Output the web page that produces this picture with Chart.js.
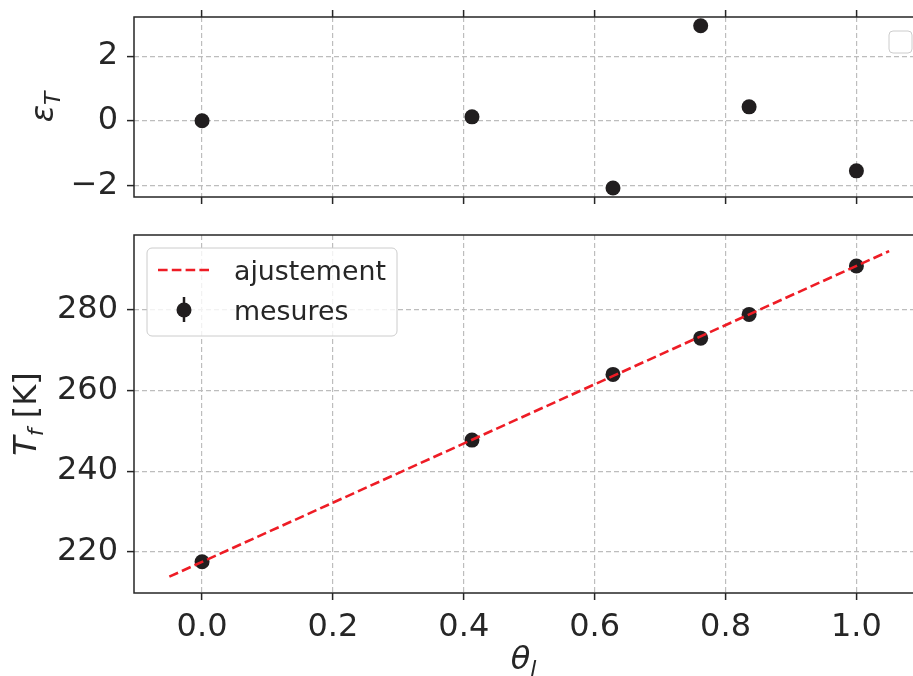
<!DOCTYPE html>
<html>
<head>
<meta charset="utf-8">
<script src="https://cdn.jsdelivr.net/npm/chart.js@4.4.1/dist/chart.umd.min.js"></script>
<style>
  html, body { margin: 0; padding: 0; background: #fff; overflow: hidden; }
  #wrap { position: relative; width: 913px; height: 676px; overflow: hidden; }
  .box { position: absolute; left: 0; width: 915px; }
</style>
</head>
<body>
<div id="wrap">
  <div class="box" style="top:0;height:215px"><canvas id="resid-chart"></canvas></div>
  <div class="box" style="top:215px;height:461px"><canvas id="fit-chart"></canvas></div>
</div>
<script>
// mesures
const thetaValues = [0.0, 0.4125, 0.628, 0.762, 0.836, 1.0];
const tfValues = [217.5, 247.7, 264.0, 273.0, 278.9, 290.9];
const residValues = [0.0, 0.12, -2.08, 2.94, 0.43, -1.55];

// droite d'ajustement (extremites)
const fitTheta = [-0.05, 1.05];
const fitTf = [213.8, 294.6];

// graduations
const xTickValues = [0.0, 0.2, 0.4, 0.6, 0.8, 1.0];
const residTickValues = [-2, 0, 2];
const tfTickValues = [220, 240, 260, 280];

// limites des axes
const xLimits = [-0.104, 1.088];
const residLimits = [-2.36, 3.21];
const tfLimits = [209.75, 298.6];

const INK = '#262626';
const DOT = '#211e1f';
const RED = '#ee1c25';
const GRID = '#bdbdbd';

Chart.defaults.font.family = "'DejaVu Sans'";
Chart.defaults.color = INK;

const setTicks = arr => scale => { scale.ticks = arr.map(v => ({ value: v })); };
const fmtY = v => (v < 0 ? '\u2212' + Math.abs(v) : String(v));

// taille fixe de l'axe, sans marge auto pour les etiquettes
const fixSize = (key, val) => s => {
    s[key] = val;
    s.paddingTop = 0; s.paddingBottom = 0;
    s.paddingLeft = 0; s.paddingRight = 0;
};

function gridOpts(onArea) {
    return {
        color: GRID, lineWidth: 1.2, drawOnChartArea: onArea,
        drawTicks: true, tickLength: 7, tickWidth: 1.5, tickColor: INK,
        tickBorderDash: []
    };
}
const borderOpts = { display: false, dash: [5, 3] };

// titre avec indice (texte italique + indice)
function drawSubLabel(ctx, parts, x, y, rotate) {
    ctx.save();
    ctx.translate(x, y);
    if (rotate) ctx.rotate(-Math.PI / 2);
    let total = 0;
    parts.forEach(p => {
        ctx.font = (p.italic ? 'italic ' : '') + p.size + "px 'DejaVu Sans'";
        p.w = ctx.measureText(p.t).width;
        total += p.w;
    });
    let cx = -total / 2;
    ctx.fillStyle = INK;
    ctx.textBaseline = 'alphabetic';
    ctx.textAlign = 'left';
    parts.forEach(p => {
        ctx.font = (p.italic ? 'italic ' : '') + p.size + "px 'DejaVu Sans'";
        ctx.fillText(p.t, cx, p.dy || 0);
        cx += p.w;
    });
    ctx.restore();
}

function frame(chart) {
    const { ctx, chartArea: a } = chart;
    ctx.save();
    ctx.strokeStyle = INK;
    ctx.lineWidth = 1.5;
    ctx.strokeRect(a.left, a.top, a.right - a.left, a.bottom - a.top);
    ctx.restore();
}

const residDecor = {
    id: 'residDecor',
    afterDraw(chart) {
        const { ctx, chartArea: a } = chart;
        frame(chart);
        // legende vide
        ctx.save();
        ctx.beginPath();
        ctx.roundRect(a.right - 25, a.top + 14, 23, 22, 4);
        ctx.fillStyle = 'rgba(255,255,255,0.8)';
        ctx.fill();
        ctx.strokeStyle = '#cccccc';
        ctx.lineWidth = 1;
        ctx.stroke();
        ctx.restore();
        drawSubLabel(ctx, [
            { t: '\u03b5', size: 32, italic: true },
            { t: 'T', size: 22, italic: true, dy: 7 }
        ], 53, (a.top + a.bottom) / 2, true);
    }
};

const fitDecor = {
    id: 'fitDecor',
    afterDraw(chart) {
        const { ctx, chartArea: a } = chart;
        frame(chart);
        // legende
        const lx = a.left + 13, ly = a.top + 13;
        ctx.save();
        ctx.beginPath();
        ctx.roundRect(lx, ly, 250, 88, 5);
        ctx.fillStyle = 'rgba(255,255,255,0.8)';
        ctx.fill();
        ctx.strokeStyle = '#cccccc';
        ctx.lineWidth = 1;
        ctx.stroke();

        ctx.strokeStyle = RED;
        ctx.lineWidth = 2.6;
        ctx.setLineDash([9.6, 4.2]);
        ctx.beginPath();
        ctx.moveTo(lx + 11, ly + 22);
        ctx.lineTo(lx + 65, ly + 22);
        ctx.stroke();
        ctx.setLineDash([]);

        ctx.strokeStyle = DOT;
        ctx.lineWidth = 2.5;
        ctx.beginPath();
        ctx.moveTo(lx + 37, ly + 49);
        ctx.lineTo(lx + 37, ly + 74);
        ctx.stroke();
        ctx.fillStyle = DOT;
        ctx.beginPath();
        ctx.arc(lx + 37, ly + 62, 7.5, 0, Math.PI * 2);
        ctx.fill();

        ctx.fillStyle = INK;
        ctx.font = "26.8px 'DejaVu Sans'";
        ctx.textBaseline = 'alphabetic';
        ctx.fillText('ajustement', lx + 87, ly + 32);
        ctx.fillText('mesures', lx + 87, ly + 72);
        ctx.restore();

        drawSubLabel(ctx, [
            { t: 'T', size: 32, italic: true },
            { t: 'f', size: 22, italic: true, dy: 7 },
            { t: ' [K]', size: 32 }
        ], 36, (a.top + a.bottom) / 2, true);
        drawSubLabel(ctx, [
            { t: '\u03b8', size: 32, italic: true },
            { t: 'l', size: 22, italic: true, dy: 7 }
        ], (a.left + 913) / 2, 454, false);
    }
};

const commonOpts = {
    responsive: true,
    maintainAspectRatio: false,
    animation: false,
    events: [],
    plugins: { legend: { display: false }, tooltip: { enabled: false } }
};

let ctxResid = document.getElementById('resid-chart').getContext('2d');
const residChart = new Chart(ctxResid, {
    type: 'scatter',
    data: {
        datasets: [{
            label: 'residus',
            data: thetaValues.map((t, i) => ({ x: t, y: residValues[i] })),
            backgroundColor: DOT,
            borderWidth: 0,
            pointRadius: 7.5,
            pointHoverRadius: 7.5
        }]
    },
    options: {
        ...commonOpts,
        layout: { autoPadding: false, padding: { top: 0, left: 0, right: 1, bottom: 0 } },
        scales: {
            x: {
                type: 'linear', position: 'bottom',
                min: xLimits[0], max: xLimits[1],
                afterBuildTicks: setTicks(xTickValues),
                afterFit: fixSize('height', 18),
                grid: gridOpts(true), border: borderOpts,
                ticks: { display: false }
            },
            x2: {
                type: 'linear', position: 'top',
                min: xLimits[0], max: xLimits[1],
                afterBuildTicks: setTicks(xTickValues),
                afterFit: fixSize('height', 17),
                grid: gridOpts(false), border: { display: false },
                ticks: { display: false }
            },
            y: {
                min: residLimits[0], max: residLimits[1],
                afterBuildTicks: setTicks(residTickValues),
                afterFit: fixSize('width', 134),
                grid: gridOpts(true), border: borderOpts,
                ticks: { font: { size: 32 }, padding: 9, callback: fmtY }
            }
        }
    },
    plugins: [residDecor]
});

let ctxFit = document.getElementById('fit-chart').getContext('2d');
const fitChart = new Chart(ctxFit, {
    type: 'scatter',
    data: {
        datasets: [{
            label: 'ajustement',
            data: fitTheta.map((t, i) => ({ x: t, y: fitTf[i] })),
            showLine: true,
            borderColor: RED,
            borderWidth: 2.6,
            borderDash: [9.6, 4.2],
            pointRadius: 0,
            pointHoverRadius: 0
        }, {
            label: 'mesures',
            data: thetaValues.map((t, i) => ({ x: t, y: tfValues[i] })),
            backgroundColor: DOT,
            borderWidth: 0,
            pointRadius: 7.5,
            pointHoverRadius: 7.5
        }]
    },
    options: {
        ...commonOpts,
        layout: { autoPadding: false, padding: { top: 20, left: 0, right: 1, bottom: 0 } },
        scales: {
            x: {
                type: 'linear', position: 'bottom',
                min: xLimits[0], max: xLimits[1],
                afterBuildTicks: setTicks(xTickValues),
                afterFit: fixSize('height', 83),
                grid: gridOpts(true), border: borderOpts,
                ticks: { font: { size: 32 }, padding: 8, callback: v => v.toFixed(1) }
            },
            y: {
                min: tfLimits[0], max: tfLimits[1],
                afterBuildTicks: setTicks(tfTickValues),
                afterFit: fixSize('width', 134),
                grid: gridOpts(true), border: borderOpts,
                ticks: { font: { size: 32 }, padding: 9, callback: fmtY }
            }
        }
    },
    plugins: [fitDecor]
});
</script>
</body>
</html>
